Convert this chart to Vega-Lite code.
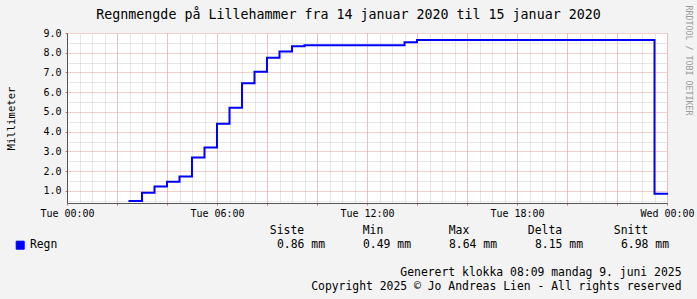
{
  "$schema": "https://vega.github.io/schema/vega-lite/v6.json",
  "width": 600,
  "height": 170,
  "autosize": "none",
  "padding": {"left": 67, "top": 33, "right": 30, "bottom": 96},
  "background": "#f3f3f3",
  "config": {
    "font": "DejaVu Sans Mono",
    "view": {"fill": "#ffffff", "stroke": null},
    "axis": {"labelFont": "DejaVu Sans Mono", "titleFont": "DejaVu Sans Mono", "labelColor": "#000000", "titleColor": "#000000", "titleFontWeight": "normal"},
    "legend": {"labelFont": "DejaVu Sans Mono"}
  },
  "datasets": {
    "rain": [
      {"t": "2020-01-14T02:30:00Z", "mm": 0.49},
      {"t": "2020-01-14T03:00:00Z", "mm": 0.91},
      {"t": "2020-01-14T03:30:00Z", "mm": 1.22},
      {"t": "2020-01-14T04:00:00Z", "mm": 1.46},
      {"t": "2020-01-14T04:30:00Z", "mm": 1.73},
      {"t": "2020-01-14T05:00:00Z", "mm": 2.69},
      {"t": "2020-01-14T05:30:00Z", "mm": 3.20},
      {"t": "2020-01-14T06:00:00Z", "mm": 4.40},
      {"t": "2020-01-14T06:30:00Z", "mm": 5.21},
      {"t": "2020-01-14T07:00:00Z", "mm": 6.45},
      {"t": "2020-01-14T07:30:00Z", "mm": 7.04},
      {"t": "2020-01-14T08:00:00Z", "mm": 7.75},
      {"t": "2020-01-14T08:30:00Z", "mm": 8.06},
      {"t": "2020-01-14T09:00:00Z", "mm": 8.33},
      {"t": "2020-01-14T09:30:00Z", "mm": 8.38},
      {"t": "2020-01-14T10:00:00Z", "mm": 8.38},
      {"t": "2020-01-14T10:30:00Z", "mm": 8.38},
      {"t": "2020-01-14T11:00:00Z", "mm": 8.38},
      {"t": "2020-01-14T11:30:00Z", "mm": 8.38},
      {"t": "2020-01-14T12:00:00Z", "mm": 8.38},
      {"t": "2020-01-14T12:30:00Z", "mm": 8.38},
      {"t": "2020-01-14T13:00:00Z", "mm": 8.38},
      {"t": "2020-01-14T13:30:00Z", "mm": 8.53},
      {"t": "2020-01-14T14:00:00Z", "mm": 8.64},
      {"t": "2020-01-14T14:30:00Z", "mm": 8.64},
      {"t": "2020-01-14T15:00:00Z", "mm": 8.64},
      {"t": "2020-01-14T15:30:00Z", "mm": 8.64},
      {"t": "2020-01-14T16:00:00Z", "mm": 8.64},
      {"t": "2020-01-14T16:30:00Z", "mm": 8.64},
      {"t": "2020-01-14T17:00:00Z", "mm": 8.64},
      {"t": "2020-01-14T17:30:00Z", "mm": 8.64},
      {"t": "2020-01-14T18:00:00Z", "mm": 8.64},
      {"t": "2020-01-14T18:30:00Z", "mm": 8.64},
      {"t": "2020-01-14T19:00:00Z", "mm": 8.64},
      {"t": "2020-01-14T19:30:00Z", "mm": 8.64},
      {"t": "2020-01-14T20:00:00Z", "mm": 8.64},
      {"t": "2020-01-14T20:30:00Z", "mm": 8.64},
      {"t": "2020-01-14T21:00:00Z", "mm": 8.64},
      {"t": "2020-01-14T21:30:00Z", "mm": 8.64},
      {"t": "2020-01-14T22:00:00Z", "mm": 8.64},
      {"t": "2020-01-14T22:30:00Z", "mm": 8.64},
      {"t": "2020-01-14T23:00:00Z", "mm": 8.64},
      {"t": "2020-01-14T23:30:00Z", "mm": 0.86},
      {"t": "2020-01-15T00:00:00Z", "mm": 0.86}
    ],
    "stats": [
      {"col": "Siste", "row": "head", "label": "Siste"},
      {"col": "Min", "row": "head", "label": "Min"},
      {"col": "Max", "row": "head", "label": "Max"},
      {"col": "Delta", "row": "head", "label": "Delta"},
      {"col": "Snitt", "row": "head", "label": "Snitt"},
      {"col": "Siste", "row": "val", "label": "0.86 mm"},
      {"col": "Min", "row": "val", "label": "0.49 mm"},
      {"col": "Max", "row": "val", "label": "8.64 mm"},
      {"col": "Delta", "row": "val", "label": "8.15 mm"},
      {"col": "Snitt", "row": "val", "label": "6.98 mm"}
    ]
  },
  "layer": [
    {
      "data": {"name": "rain"},
      "mark": {"type": "line", "opacity": 0},
      "encoding": {
        "x": {"field": "t", "type": "temporal",
          "scale": {"type": "utc", "domain": [{"year": 2020, "month": 1, "date": 14, "utc": true}, {"year": 2020, "month": 1, "date": 15, "utc": true}], "nice": false},
          "axis": {"orient": "top", "tickCount": 48, "grid": true, "gridColor": "#cdcdcd", "gridDash": [1, 1], "gridWidth": 1, "labels": false, "ticks": false, "domain": false,
            "title": "Regnmengde på Lillehammer fra 14 januar 2020 til 15 januar 2020", "titleFontSize": 13.3, "titleColor": "#000000", "titleX": 281, "titleY": -15, "titleAlign": "center", "titleBaseline": "alphabetic"}},
        "y": {"field": "mm", "type": "quantitative",
          "scale": {"domain": [0.39, 9], "nice": false, "zero": false},
          "axis": {"orient": "right", "values": [0.5, 1.5, 2.5, 3.5, 4.5, 5.5, 6.5, 7.5, 8.5], "grid": true, "gridColor": "#cdcdcd", "gridDash": [1, 1], "gridWidth": 1, "labels": false, "ticks": false, "domain": false,
            "title": "RRDTOOL / TOBI OETIKER", "titleAngle": 90, "titleFontSize": 8.3, "titleColor": "#9a9a9a", "titleX": 20.5, "titleY": -28, "titleAlign": "left", "titleBaseline": "middle"}}
      }
    },
    {
      "data": {"name": "rain"},
      "mark": {"type": "line", "interpolate": "step-after", "strokeWidth": 2, "strokeJoin": "miter", "strokeCap": "square"},
      "encoding": {
        "x": {"field": "t", "type": "temporal",
          "scale": {"type": "utc", "domain": [{"year": 2020, "month": 1, "date": 14, "utc": true}, {"year": 2020, "month": 1, "date": 15, "utc": true}], "nice": false},
          "axis": {"orient": "bottom",
            "values": [
              {"year": 2020, "month": 1, "date": 14, "hours": 0, "utc": true},
              {"year": 2020, "month": 1, "date": 14, "hours": 2, "utc": true},
              {"year": 2020, "month": 1, "date": 14, "hours": 4, "utc": true},
              {"year": 2020, "month": 1, "date": 14, "hours": 6, "utc": true},
              {"year": 2020, "month": 1, "date": 14, "hours": 8, "utc": true},
              {"year": 2020, "month": 1, "date": 14, "hours": 10, "utc": true},
              {"year": 2020, "month": 1, "date": 14, "hours": 12, "utc": true},
              {"year": 2020, "month": 1, "date": 14, "hours": 14, "utc": true},
              {"year": 2020, "month": 1, "date": 14, "hours": 16, "utc": true},
              {"year": 2020, "month": 1, "date": 14, "hours": 18, "utc": true},
              {"year": 2020, "month": 1, "date": 14, "hours": 20, "utc": true},
              {"year": 2020, "month": 1, "date": 14, "hours": 22, "utc": true},
              {"year": 2020, "month": 1, "date": 15, "hours": 0, "utc": true}
            ],
            "grid": true, "gridColor": "#e4a0a0", "gridDash": [1, 1], "gridWidth": 1,
            "labelExpr": "utchours(datum.value) % 6 == 0 ? utcFormat(datum.value, '%a %H:%M') : ''", "labelFontSize": 10, "labelOverlap": false, "labelBound": false, "labelFlush": false, "labelBaseline": "top", "labelPadding": 3,
            "ticks": true, "tickSize": 2, "tickColor": "#c07070", "domain": true, "domainColor": "#555555", "domainWidth": 1,
            "title": ["Generert klokka 08:09 mandag 9. juni 2025", "Copyright 2025 © Jo Andreas Lien - All rights reserved"], "titleFontSize": 11.4, "titleLineHeight": 14.3, "titleAlign": "right", "titleX": 614, "titleY": 72, "titleBaseline": "alphabetic"}},
        "y": {"field": "mm", "type": "quantitative",
          "scale": {"domain": [0.39, 9], "nice": false, "zero": false},
          "axis": {"orient": "left", "values": [1, 2, 3, 4, 5, 6, 7, 8, 9], "format": ".1f", "grid": true, "gridColor": "#e4a0a0", "gridDash": [1, 1], "gridWidth": 1,
            "labelFontSize": 10, "labelPadding": 4, "ticks": true, "tickSize": 2, "tickColor": "#c07070", "domain": true, "domainColor": "#555555", "domainWidth": 1,
            "title": "Millimeter", "titleFontSize": 10.6, "titleX": -56, "titleY": 85, "titleAlign": "center", "titleBaseline": "middle", "titleAngle": -90}},
        "color": {"datum": "Regn", "type": "nominal",
          "scale": {"range": ["#0000ff"]},
          "legend": {"title": null, "orient": "none", "legendX": -52.5, "legendY": 206.5, "padding": 0, "symbolType": "square", "symbolSize": 64, "symbolFillColor": "#0000ff", "symbolStrokeColor": "#000060", "symbolStrokeWidth": 1, "labelFontSize": 11.4, "labelOffset": 4, "labelColor": "#000000"}}
      }
    },
    {
      "data": {"name": "stats"},
      "transform": [{"filter": "datum.row == 'head'"}],
      "mark": {"type": "text", "fontSize": 11.4, "color": "#000000", "align": "center", "baseline": "middle", "dx": -14},
      "encoding": {
        "x": {"field": "col", "type": "nominal", "sort": null, "scale": {"type": "point", "domain": ["Siste", "Min", "Max", "Delta", "Snitt"], "range": [234, 578], "padding": 0}, "axis": null},
        "y": {"field": "row", "type": "nominal", "sort": null, "scale": {"type": "point", "domain": ["head", "val"], "range": [197.5, 211.5], "padding": 0}, "axis": null},
        "text": {"field": "label"}
      }
    },
    {
      "data": {"name": "stats"},
      "transform": [{"filter": "datum.row == 'val'"}],
      "mark": {"type": "text", "fontSize": 11.4, "color": "#000000", "align": "center", "baseline": "middle"},
      "encoding": {
        "x": {"field": "col", "type": "nominal", "sort": null, "scale": {"type": "point", "domain": ["Siste", "Min", "Max", "Delta", "Snitt"], "range": [234, 578], "padding": 0}, "axis": null},
        "y": {"field": "row", "type": "nominal", "sort": null, "scale": {"type": "point", "domain": ["head", "val"], "range": [197.5, 211.5], "padding": 0}, "axis": null},
        "text": {"field": "label"}
      }
    }
  ],
  "resolve": {"scale": {"x": "independent", "y": "independent"}, "axis": {"x": "independent", "y": "independent"}}
}
